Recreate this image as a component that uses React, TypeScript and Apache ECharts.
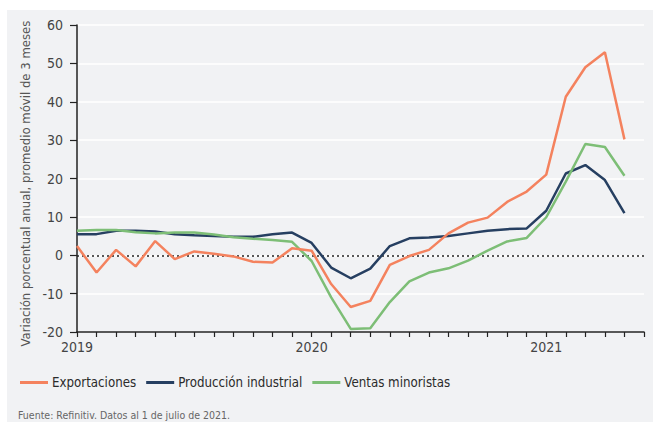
import React, { useEffect, useRef } from "react";
import * as echarts from "echarts";

const months: string[] = [];
for (let y = 2019; y <= 2021; y++) {
  for (let m = 1; m <= 12; m++) {
    if (y === 2021 && m > 6) break;
    months.push(`${y}-${String(m).padStart(2, "0")}`);
  }
}

const exportaciones = [
  2.4, -4.5, 1.4, -2.9, 3.7, -1.0, 1.0, 0.4, -0.3, -1.7, -1.9, 1.8,
  1.2, -7.5, -13.5, -11.9, -2.5, -0.2, 1.4, 5.7, 8.5, 9.8, 13.9, 16.6,
  21.0, 41.3, 49.0, 52.9, 30.2,
];
const produccion = [
  5.5, 5.5, 6.4, 6.4, 6.2, 5.5, 5.2, 5.0, 4.8, 4.8, 5.5, 5.9,
  3.2, -3.2, -6.0, -3.5, 2.4, 4.4, 4.6, 5.0, 5.7, 6.4, 6.8, 7.0,
  11.6, 21.3, 23.5, 19.6, 11.0,
];
const ventas = [
  6.4, 6.6, 6.6, 6.0, 5.7, 5.9, 5.9, 5.4, 4.7, 4.3, 4.0, 3.5,
  -1.5, -11.0, -19.2, -19.0, -12.2, -6.8, -4.5, -3.4, -1.4, 1.2, 3.6, 4.5,
  9.9, 19.2, 29.0, 28.2, 20.7,
];

const seriesNames = ["Exportaciones", "Producción industrial", "Ventas minoristas"];
const colors = ["#F4825E", "#263F61", "#7DBE76"];
const yTitle = "Variación porcentual anual, promedio móvil de 3 meses";
const source = "Fuente: Refinitiv. Datos al 1 de julio de 2021.";

const FONT = "'DejaVu Sans Condensed', Roboto, sans-serif";

export default function App() {
  const ref = useRef<HTMLDivElement>(null);
  useEffect(() => {
    if (!ref.current) return;
    const chart = echarts.init(ref.current, undefined, { renderer: "svg" });
    const datas = [exportaciones, produccion, ventas];
    chart.setOption({
      animation: false,
      backgroundColor: "#ffffff",
      textStyle: { fontFamily: FONT },
      graphic: [
        {
          type: "rect",
          z: -10,
          shape: { x: 7, y: 10, width: 646, height: 412 },
          style: { fill: "#F1F2F4" },
          silent: true,
        },
        {
          type: "text",
          x: 18,
          y: 415,
          style: {
            text: source,
            fill: "#666",
            fontSize: 10.5,
            fontFamily: FONT,
            verticalAlign: "middle",
          },
        },
      ],
      grid: { left: 77, right: 9, top: 25, bottom: 90 },
      legend: {
        left: 20,
        top: 376,
        padding: 0,
        icon: "rect",
        itemWidth: 28,
        itemHeight: 3,
        itemGap: 10,
        textStyle: { fontSize: 13.2, color: "#2b2b2b", fontFamily: FONT, padding: [0, 0, 0, -1] },
        data: seriesNames,
      },
      xAxis: {
        type: "category",
        data: months,
        boundaryGap: false,
        axisLine: { onZero: false, lineStyle: { color: "#222", width: 1.5 } },
        axisTick: { interval: 0, length: 5, lineStyle: { color: "#222", width: 1.2 } },
        axisLabel: {
          interval: 11,
          margin: 8,
          fontSize: 14,
          color: "#444",
          formatter: (v: string) => v.slice(0, 4),
        },
        splitLine: { show: false },
      },
      yAxis: {
        type: "value",
        min: -20,
        max: 60,
        interval: 10,
        name: yTitle,
        nameLocation: "middle",
        nameRotate: 90,
        nameGap: 42,
        nameTextStyle: { fontSize: 13, color: "#555", padding: [0, 10, 0, 0] },
        axisLine: { show: true, lineStyle: { color: "#222", width: 1.5 } },
        axisTick: { show: true, length: 7, lineStyle: { color: "#222", width: 1.2 } },
        axisLabel: { fontSize: 14, color: "#444", margin: 14 },
        splitLine: { show: true, lineStyle: { color: "#ffffff", width: 1.5 } },
      },
      series: seriesNames.map((name, i) => ({
        name,
        type: "line",
        data: datas[i],
        symbol: "none",
        z: 3 + (i === 0 ? 1 : 0),
        color: colors[i],
        lineStyle: { color: colors[i], width: 2.5 },
        markLine:
          i === 0
            ? {
                silent: true,
                symbol: "none",
                label: { show: false },
                lineStyle: { color: "#222", type: [2, 3], width: 1.5 },
                data: [{ yAxis: 0 }],
                z: 2,
              }
            : undefined,
      })),
    });
    return () => chart.dispose();
  }, []);
  return (
    <div
      ref={ref}
      style={{ position: "fixed", left: 0, top: 0, width: 653, height: 422 }}
    />
  );
}
